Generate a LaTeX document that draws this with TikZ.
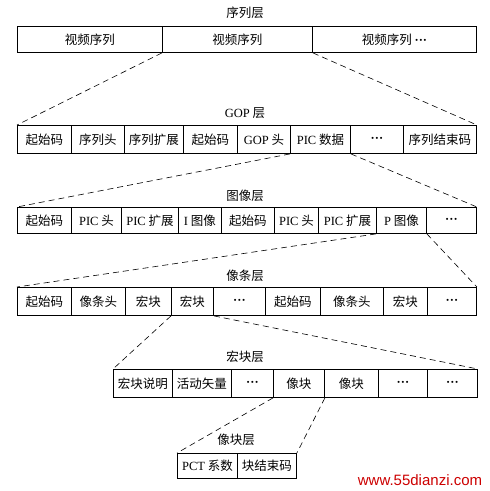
\documentclass[tikz,border=0pt]{standalone}
\usepackage{fontspec}
\setmainfont{Noto Sans CJK SC}
\newfontfamily\latin{Liberation Serif}
\newfontfamily\wmfont{Liberation Sans}
\newcommand\en[1]{{\latin #1}}
\newcommand\dd{{\latin\bfseries ···}}
\usetikzlibrary{positioning}
\tikzset{
  cell/.style     = {draw, line width=0.9pt, inner sep=0pt, anchor=north west,
                     font=\fontsize{12.5}{14}\selectfont},
  titlu/.style    = {inner sep=1pt, font=\fontsize{12.5}{14}\selectfont},
  zoomline/.style = {line width=0.6pt, dash pattern=on 6pt off 4pt},
  wmark/.style    = {text=red!80!black, font=\wmfont\fontsize{15}{16}\selectfont, inner sep=0pt}
}

\begin{document}
\begin{tikzpicture}[x=1pt, y=-1pt]
    \useasboundingbox (0,0) rectangle (490,491);

    % sequence layer
    \node[titlu] (t1) at (245,13) {序列层};
    \foreach \nm/\a/\b/\txt in {s1/17/162/视频序列, s2/162/312/视频序列, s3/312/476/{视频序列 \dd}}
        \node[cell, minimum width=\b-\a, minimum height=26] (\nm) at (\a,26) {\txt};

    % GOP layer
    \node[titlu] (t2) at (245,113) {\en{GOP} 层};
    \foreach \nm/\a/\b/\txt in {g1/17/71/起始码, g2/71/124/序列头, g3/124/183/序列扩展,
        g4/183/237/起始码, g5/237/290/{\en{GOP} 头}, g6/290/350/{\en{PIC} 数据},
        g7/350/403/\dd, g8/403/476/序列结束码}
        \node[cell, minimum width=\b-\a, minimum height=28] (\nm) at (\a,125) {\txt};

    % picture layer
    \node[titlu] (t3) at (245,196) {图像层};
    \foreach \nm/\a/\b/\txt in {p1/17/71/起始码, p2/71/121/{\en{PIC} 头}, p3/121/178/{\en{PIC} 扩展},
        p4/178/221/{\en{I} 图像}, p5/221/274/起始码, p6/274/318/{\en{PIC} 头},
        p7/318/376/{\en{PIC} 扩展}, p8/376/426/{\en{P} 图像}, p9/426/476/\dd}
        \node[cell, minimum width=\b-\a, minimum height=26] (\nm) at (\a,207) {\txt};

    % slice layer
    \node[titlu] (t4) at (245,276) {像条层};
    \foreach \nm/\a/\b/\txt in {c1/17/71/起始码, c2/71/125/像条头, c3/125/171/宏块,
        c4/171/213/宏块, c5/213/265/\dd, c6/265/320/起始码, c7/320/383/像条头,
        c8/383/427/宏块, c9/427/476/\dd}
        \node[cell, minimum width=\b-\a, minimum height=28] (\nm) at (\a,287) {\txt};

    % macroblock layer
    \node[titlu] (t5) at (245,357) {宏块层};
    \foreach \nm/\a/\b/\txt in {m1/113/172/宏块说明, m2/172/231/活动矢量, m3/231/273/\dd,
        m4/273/324/像块, m5/324/378/像块, m6/378/427/\dd, m7/427/477/\dd}
        \node[cell, minimum width=\b-\a, minimum height=28] (\nm) at (\a,369) {\txt};

    % block layer
    \node[titlu] (t6) at (236,440) {像块层};
    \foreach \nm/\a/\b/\txt in {b1/177/237/{\en{PCT} 系数}, b2/237/296/块结束码}
        \node[cell, minimum width=\b-\a, minimum height=25] (\nm) at (\a,453) {\txt};

    % zoom lines
    \draw[zoomline] (s2.south west) -- (g1.north west);
    \draw[zoomline] (s2.south east) -- (g8.north east);
    \draw[zoomline] (g6.south west) -- (p1.north west);
    \draw[zoomline] (g6.south east) -- (p9.north east);
    \draw[zoomline] (p8.south west) -- (c1.north west);
    \draw[zoomline] (p8.south east) -- (c9.north east);
    \draw[zoomline] (c4.south west) -- (m1.north west);
    \draw[zoomline] (c4.south east) -- (m7.north east);
    \draw[zoomline] (m4.south west) -- (b1.north west);
    \draw[zoomline] (m4.south east) -- (b2.north east);

    \node[wmark] (wm) at (420,480) {www.55dianzi.com};
\end{tikzpicture}
\end{document}
